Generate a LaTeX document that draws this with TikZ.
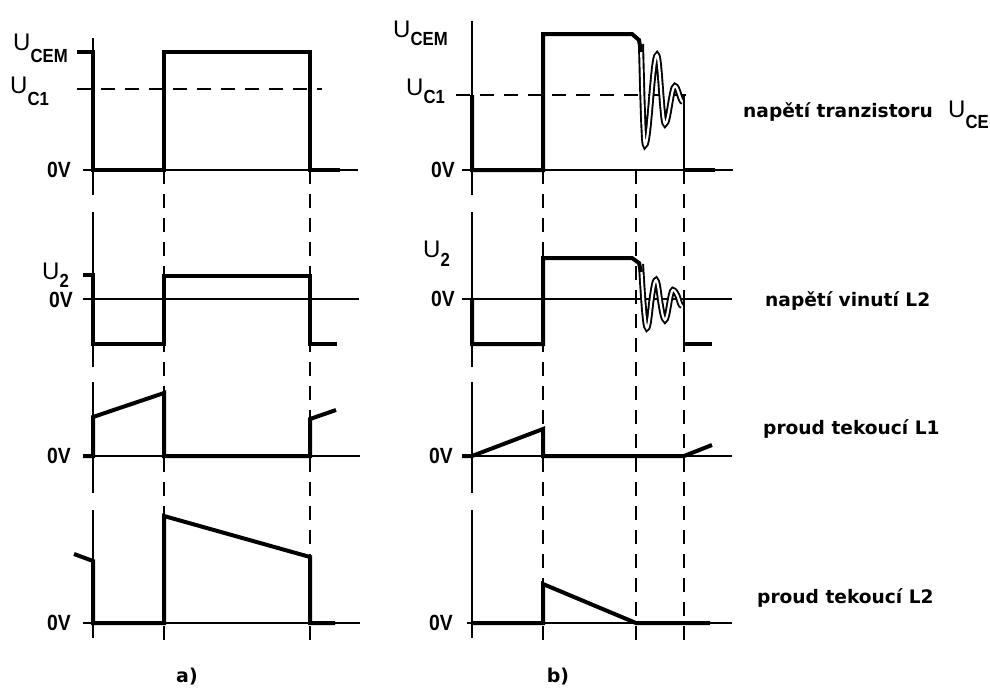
\documentclass[tikz,border=0pt]{standalone}
\usepackage{fontspec}
\setmainfont{Liberation Sans}
\newfontfamily\narrowfont[FakeStretch=0.88]{Liberation Sans}
\newfontfamily\notefont{DejaVu Sans}
\newcommand{\usub}[2][10pt]{{\fontsize{24}{24}\selectfont U}\raisebox{-#1}{\narrowfont\bfseries\fontsize{19}{19}\selectfont #2}}

\begin{document}
\begin{tikzpicture}[
  x=1pt, y=-1pt,
  wave/.style={line width=4pt},
  osc/.style={double, line width=1.9pt, double distance=2.2pt},
  axis/.style={line width=1.2pt},
  guide/.style={line width=1.2pt, dash pattern=on 14pt off 10pt},
  zero/.style={anchor=east, inner sep=0pt, font=\narrowfont\bfseries\fontsize{22}{22}\selectfont},
  sig/.style={anchor=base west, inner sep=0pt},
  note/.style={anchor=base west, inner sep=0pt, font=\notefont\bfseries\fontsize{18.6}{20}\selectfont},
  part/.style={inner sep=0pt, font=\notefont\bfseries\fontsize{19}{19}\selectfont}
]
\useasboundingbox (0,0) rectangle (990,689);

% Axes a)
\draw[axis] (93,38) -- (93,195);
\draw[axis] (93,212) -- (93,367);
\draw[axis] (93,382) -- (93,493);
\draw[axis] (93,510) -- (93,638);
\draw[axis] (83,170) -- (358,170);
\draw[axis] (83,299) -- (359,299);
\draw[axis] (83,456) -- (360,456);
\draw[axis] (83,623) -- (360,623);

% Axes b)
\draw[axis] (472,21) -- (472,195);
\draw[axis] (472,212) -- (472,367);
\draw[axis] (472,382) -- (472,493);
\draw[axis] (472,510) -- (472,638);
\draw[axis] (462,170) -- (733,170);
\draw[axis] (462,299) -- (732,299);
\draw[axis] (462,456) -- (732,456);
\draw[axis] (467,623) -- (732,623);

% Guides
\draw[guide] (77,89) -- (322,89);
\draw[guide] (456,95) -- (696,95);
\foreach \gx in {164,310,543,636,684}
  \draw[guide] (\gx,170) -- (\gx,640);

% a) transistor voltage
\draw[wave] (77,52) -- (93,52) -- (93,170) -- (164,170) -- (164,52) -- (310,52) -- (310,170) -- (340,170);
% a) winding L2
\draw[wave] (83,275) -- (93,275) -- (93,344) -- (164,344) -- (164,276) -- (310,276) -- (310,344) -- (337,344);
% a) current L1
\draw[wave] (83,456) -- (93,456) -- (93,417) -- (164,393) -- (164,456) -- (310,456) -- (310,419) -- (336,410);
% a) current L2
\draw[wave] (74,554) -- (93,561) -- (93,623) -- (164,623) -- (164,516) -- (310,557) -- (310,623) -- (335,623);

% b) transistor voltage
\draw[osc] (641,44) sin (645,145) cos (651,100) sin (657,55) cos (661,90) sin (665,124) cos (670,105) sin (675,86) cos (679,94) sin (683,102);
\draw[wave] (472,95) -- (472,170) -- (543,170) -- (543,34) -- (632,34) -- (639,40) -- (641,52);
\draw[axis] (684,95) -- (684,170);
\draw[wave] (684,170) -- (715,170);
% b) winding L2
\draw[osc] (641,264) sin (647,328) cos (651,304) sin (656,280) cos (660,300) sin (665,320) cos (669,305) sin (673,290) cos (678,297) sin (682,306);
\draw[wave] (472,299) -- (472,344) -- (543,344) -- (543,258) -- (632,258) -- (639,263) -- (641,272);
\draw[axis] (684,300) -- (684,344);
\draw[wave] (684,344) -- (712,344);
% b) current L1
\draw[wave] (462,456) -- (472,456) -- (543,429) -- (543,456) -- (684,456) -- (712,445);
% b) current L2
\draw[wave] (472,623) -- (543,623) -- (543,584) -- (636,623) -- (710,623);

% Labels a)
\node[sig] (ucema) at (13,50) {\usub[12pt]{CEM}};
\node[sig] (uc1a) at (10,93) {\usub[12pt]{C1}};
\node[sig] (u2a) at (42,279) {\usub[8pt]{2}};
\node[zero] (zero1a) at (71,170) {0V};
\node[zero] (zero2a) at (73,300) {0V};
\node[zero] (zero3a) at (71,456) {0V};
\node[zero] (zero4a) at (71,623) {0V};
\node[part] (parta) at (187,677) {a)};

% Labels b)
\node[sig] (ucemb) at (393,37) {\usub[8pt]{CEM}};
\node[sig] (uc1b) at (406,95) {\usub[8pt]{C1}};
\node[sig] (u2b) at (423,257) {\usub[9pt]{2}};
\node[zero] (zero1b) at (455,170) {0V};
\node[zero] (zero2b) at (455,299) {0V};
\node[zero] (zero3b) at (453,456) {0V};
\node[zero] (zero4b) at (453,623) {0V};
\node[part] (partb) at (558,677) {b)};

% Signal names
\node[note] (ntran) at (743,117) {napětí tranzistoru};
\node[sig] (uce) at (948,117) {\usub[11pt]{CE}};
\node[note] (nvin) at (765,306) {napětí vinutí L2};
\node[note] (nil1) at (763,434) {proud tekoucí L1};
\node[note] (nil2) at (757,603) {proud tekoucí L2};

\end{tikzpicture}
\end{document}
